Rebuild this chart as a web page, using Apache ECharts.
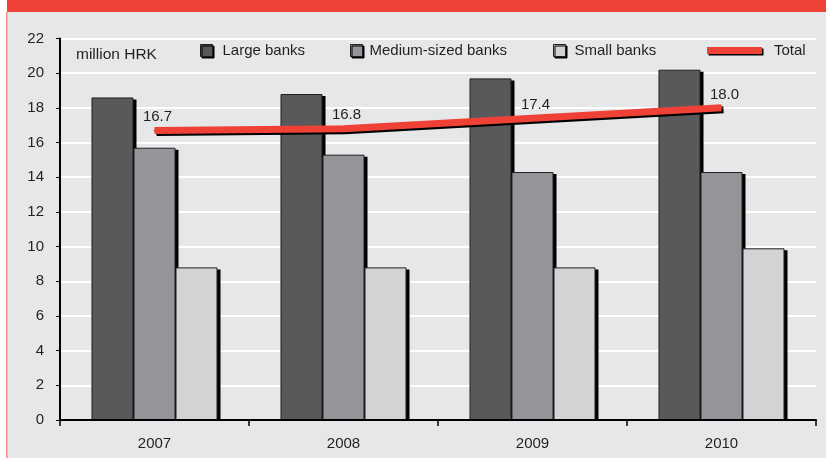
<!DOCTYPE html>
<html>
<head>
<meta charset="utf-8">
<script src="https://cdn.jsdelivr.net/npm/echarts@6/dist/echarts.min.js"></script>
<style>
  html, body { margin: 0; padding: 0; background: #ffffff; }
  #chart { width: 826px; height: 458px; }
</style>
</head>
<body>
<div id="chart"></div>
<script>
// Years on the category axis
const years = ['2007', '2008', '2009', '2010'];

// Values in million HRK, by bank size group
const largeBanks = [18.6, 18.8, 19.7, 20.2];
const mediumBanks = [15.7, 15.3, 14.3, 14.3];
const smallBanks = [8.8, 8.8, 8.8, 9.9];
const totalBanks = [16.7, 16.8, 17.4, 18.0];

// Value axis range
const yMin = 0;
const yMax = 22;
const yStep = 2;

const FONT = '"Liberation Sans", Arial, sans-serif';
const FS = 15;
const BG = '#e6e7e8';
const RED = '#ef4136';
const INK = '#231f20';

const chart = echarts.init(document.getElementById('chart'), null, { renderer: 'canvas' });

// Three bars per year fill two thirds of each category band;
// each bar casts a hard black shadow to the lower right.
function barSeries(name, values, color, slot) {
  return {
    name: name,
    type: 'custom',
    data: values.map((v, i) => [i, v]),
    encode: { x: 0, y: 1 },
    itemStyle: { color: color },
    renderItem: function (params, api) {
      const idx = api.value(0);
      const val = api.value(1);
      const base = api.coord([idx, 0]);
      const top = api.coord([idx, val]);
      const band = api.size([1, 0])[0];
      const bw = band * 0.6667 / 3;
      const left = base[0] - 1.5 * bw + slot * bw;
      const h = base[1] - top[1];
      return {
        type: 'group',
        children: [
          {
            type: 'rect',
            shape: { x: left + 3, y: top[1] + 2, width: bw, height: h - 2 },
            style: { fill: '#000000' }
          },
          {
            type: 'rect',
            shape: { x: left + 0.5, y: top[1] + 0.5, width: bw - 1, height: h - 1 },
            style: { fill: color, stroke: INK, lineWidth: 1 }
          }
        ]
      };
    },
    z: 2
  };
}

function legendItem(name, left, gap, opts) {
  return Object.assign({
    data: [name],
    left: left,
    top: 43,
    itemWidth: 12,
    itemHeight: 12,
    itemGap: 0,
    icon: 'rect',
    selectedMode: false,
    itemStyle: {
      borderColor: INK, borderWidth: 1,
      shadowColor: '#000000', shadowOffsetX: 1.5, shadowOffsetY: 1.5, shadowBlur: 0
    },
    textStyle: { fontFamily: FONT, fontSize: FS, color: INK, padding: [0, 0, 0, gap] },
    padding: 0
  }, opts || {});
}

const option = {
  backgroundColor: '#ffffff',
  animation: false,
  graphic: [
    { type: 'rect', shape: { x: 7, y: 12, width: 819, height: 446 }, style: { fill: BG }, z: -10 },
    { type: 'rect', shape: { x: 7, y: 0, width: 819, height: 12 }, style: { fill: RED }, z: -9 },
    { type: 'rect', shape: { x: 6, y: 12, width: 1.5, height: 446 }, style: { fill: '#f3908a' }, z: -9 },
    {
      type: 'text', left: 76, top: 47, z: 5,
      style: { text: 'million HRK', fontFamily: FONT, fontSize: 15.5, fill: INK }
    }
  ],
  legend: [
    legendItem('Large banks', 200, 5),
    legendItem('Medium-sized banks', 350, 2),
    legendItem('Small banks', 553, 4),
    legendItem('Total', 707, 7, {
      itemWidth: 55, itemHeight: 7,
      itemStyle: {
        borderWidth: 0,
        shadowColor: '#000000', shadowOffsetX: 1.5, shadowOffsetY: 1.5, shadowBlur: 0
      }
    })
  ],
  grid: { left: 60, right: 10, top: 38.5, bottom: 38, containLabel: false },
  xAxis: {
    type: 'category',
    data: years,
    boundaryGap: true,
    axisLine: { lineStyle: { color: '#000000', width: 2 } },
    axisTick: { show: true, length: 6, lineStyle: { color: '#000000', width: 1.5 } },
    axisLabel: { fontFamily: FONT, fontSize: FS, color: INK, margin: 16 },
    z: 5
  },
  yAxis: {
    type: 'value',
    min: yMin,
    max: yMax,
    interval: yStep,
    axisLine: { show: true, lineStyle: { color: '#000000', width: 2 } },
    axisTick: { show: true, length: 4, lineStyle: { color: '#000000', width: 1 } },
    axisLabel: { fontFamily: FONT, fontSize: FS, color: INK, margin: 16 },
    splitLine: { show: true, lineStyle: { color: '#ffffff', width: 2 } }
  },
  series: [
    barSeries('Large banks', largeBanks, '#58595b', 0),
    barSeries('Medium-sized banks', mediumBanks, '#939598', 1),
    barSeries('Small banks', smallBanks, '#d1d3d4', 2),
    {
      name: 'Total',
      type: 'line',
      data: totalBanks,
      symbol: 'circle',
      symbolSize: 2,
      showSymbol: true,
      color: RED,
      lineStyle: {
        color: RED,
        width: 7,
        cap: 'butt',
        shadowColor: '#000000',
        shadowOffsetX: 2,
        shadowOffsetY: 2,
        shadowBlur: 0
      },
      itemStyle: { color: RED },
      label: {
        show: true,
        position: 'top',
        distance: 5,
        offset: [3, 0],
        formatter: (p) => p.value.toFixed(1),
        fontFamily: FONT,
        fontSize: FS,
        color: INK
      },
      emphasis: { disabled: true },
      z: 4
    }
  ]
};

chart.setOption(option);
</script>
</body>
</html>
